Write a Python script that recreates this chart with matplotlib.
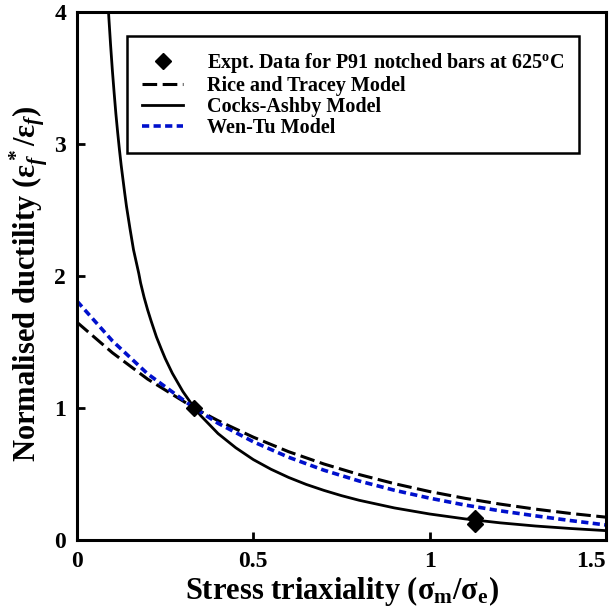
import numpy as np
import matplotlib.pyplot as plt

plt.rcParams['font.family'] = 'Liberation Serif'
plt.rcParams['font.weight'] = 'bold'
plt.rcParams['axes.labelweight'] = 'bold'
plt.rcParams['mathtext.fontset'] = 'custom'
plt.rcParams['mathtext.rm'] = 'Liberation Serif:bold'
plt.rcParams['mathtext.it'] = 'Liberation Serif:italic:bold'
plt.rcParams['mathtext.bf'] = 'Liberation Serif:bold'

# experimental points (triaxiality, normalised ductility)
expt_x = [0.333, 1.13, 1.13]
expt_y = [1.0, 0.12, 0.17]

# Rice and Tracey model
rt_x = [0.0, 0.1, 0.2, 0.333, 0.4, 0.5, 0.6, 0.7, 0.8, 0.9, 1.0, 1.1, 1.2, 1.3, 1.4, 1.5]
rt_y = [1.65, 1.42, 1.22, 1.0, 0.905, 0.78, 0.67, 0.577, 0.497, 0.428, 0.368, 0.317, 0.273, 0.235, 0.202, 0.174]

# Cocks-Ashby model
ca_x = [0.085, 0.09, 0.095, 0.1, 0.105, 0.11, 0.115, 0.12, 0.125, 0.135, 0.14, 0.15, 0.16,
        0.175, 0.18, 0.19, 0.2, 0.21, 0.225, 0.24, 0.25, 0.27, 0.3, 0.333, 0.35,
        0.4, 0.45, 0.5, 0.55, 0.6, 0.65, 0.7, 0.75, 0.8, 0.9, 1.0, 1.1, 1.2, 1.3, 1.4, 1.5]
ca_y = [4.2, 3.96, 3.75, 3.56, 3.39, 3.23, 3.09, 2.96, 2.84, 2.63, 2.53, 2.36, 2.20,
        2.02, 1.95, 1.84, 1.745, 1.66, 1.54, 1.44, 1.376, 1.265, 1.126, 1.0, 0.945,
        0.807, 0.70, 0.61, 0.537, 0.475, 0.422, 0.377, 0.337, 0.302, 0.244, 0.198, 0.161,
        0.131, 0.107, 0.088, 0.072]

# Wen-Tu model
wt_x = [0.0, 0.1, 0.2, 0.333, 0.4, 0.5, 0.6, 0.7, 0.8, 0.9, 1.0, 1.1, 1.2, 1.3, 1.4, 1.5]
wt_y = [1.81, 1.51, 1.26, 1.0, 0.885, 0.745, 0.628, 0.53, 0.448, 0.378, 0.318, 0.266, 0.222, 0.184, 0.148, 0.115]

fig = plt.figure(figsize=(6.12, 6.11), dpi=100)
ax = fig.add_axes([0.126, 0.116, 0.864, 0.864])

ax.plot(expt_x, expt_y, 'D', color='black', markersize=8, zorder=5,
        label=r'Expt. Data for P91 notched bars at 625$^{\mathrm{o}}$C')
ax.plot(rt_x, rt_y, color='black', lw=2.2, dashes=(4.8, 1.8),
        label='Rice and Tracey Model')
ax.plot(ca_x, ca_y, color='black', lw=2.0, label='Cocks-Ashby Model')
ax.plot(wt_x, wt_y, color='#0010cc', lw=2.6, dashes=(2.0, 1.2),
        label='Wen-Tu Model')

ax.set_xlim(0, 1.5)
ax.set_ylim(0, 4)
ax.set_xticks([0, 0.5, 1, 1.5])
ax.set_xticklabels(['0', '0.5', '1', '1.5'])
ax.get_xticklabels()[-1].set_horizontalalignment('right')
ax.set_yticks([0, 1, 2, 3, 4])
ax.tick_params(direction='in', length=6, width=2, labelsize=17, pad=8)
for s in ax.spines.values():
    s.set_linewidth(2.2)

ax.set_xlabel(r'Stress triaxiality ($\mathrm{\sigma_m/\sigma_e}$)', fontsize=22, labelpad=1)
ax.set_ylabel(r'Normalised ductility ($\mathrm{\varepsilon}^*_f/\mathrm{\varepsilon}_f$)',
              fontsize=22)
ax.yaxis.set_label_coords(-0.05, 0.485)

leg = ax.legend(loc='upper left', bbox_to_anchor=(0.095, 0.955), borderaxespad=0,
                fontsize=14.5, frameon=True, fancybox=False, edgecolor='black',
                framealpha=1, handlelength=2.0, handletextpad=1.2,
                labelspacing=0.05, borderpad=0.75)
leg.get_frame().set_linewidth(1.8)

fig.savefig('out.png', dpi=100)
